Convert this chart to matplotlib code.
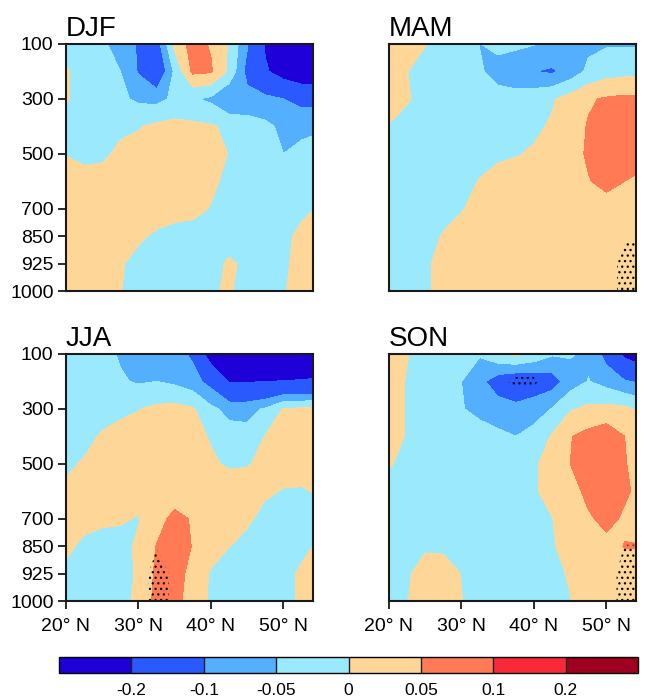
import matplotlib
matplotlib.use("Agg")
import matplotlib.pyplot as plt
import numpy as np

plt.rcParams['font.family'] = ['Liberation Sans', 'DejaVu Sans']
plt.rcParams['hatch.color'] = 'black'
plt.rcParams['hatch.linewidth'] = 0.9

# ---------------- data ----------------
lats = [20, 22.5, 25, 27.5, 30, 32.5, 35, 37.5, 40, 42.5, 45, 47.5, 50, 52.5, 55]
levels_hpa = [100, 200, 300, 400, 500, 600, 700, 850, 925, 1000]
ytick_hpa = [100, 300, 500, 700, 850, 925, 1000]
xtick_lats = [20, 30, 40, 50]
xtick_labels = ['20° N', '30° N', '40° N', '50° N']

contour_levels = [-1, -0.2, -0.1, -0.05, 0, 0.05, 0.1, 0.2, 1]
cbar_ticks = [-0.2, -0.1, -0.05, 0, 0.05, 0.1, 0.2]
cbar_ticklabels = ['-0.2', '-0.1', '-0.05', '0', '0.05', '0.1', '0.2']
fill_colors = ['#2000D8', '#2A5AFF', '#55AFFF', '#9AE9FD',
               '#FDD698', '#FF7A55', '#F82A3A', '#A00020']

djf = [
    [-0.02, -0.02, -0.04, -0.075, -0.105, -0.13, 0.015, 0.07, 0.045, -0.005, -0.095, -0.21, -0.26, -0.28, -0.28],
    [0.005, -0.02, -0.03, -0.05, -0.105, -0.16, -0.04, 0.06, 0.055, -0.01, -0.12, -0.19, -0.24, -0.27, -0.28],
    [0.005, -0.02, -0.03, -0.04, -0.06, -0.065, -0.04, -0.045, -0.06, -0.103, -0.08, -0.085, -0.1, -0.12, -0.12],
    [-0.02, -0.02, -0.015, -0.01, -0.003, 0.01, 0.015, 0.01, 0.005, -0.01, -0.03, -0.04, -0.06, -0.06, -0.055],
    [-0.002, -0.015, -0.01, 0.01, 0.015, 0.02, 0.02, 0.015, 0.01, -0.001, -0.02, -0.04, -0.05, -0.04, -0.035],
    [0.02, 0.02, 0.02, 0.02, 0.02, 0.02, 0.02, 0.015, 0.008, -0.01, -0.02, -0.02, -0.02, -0.02, -0.015],
    [0.02, 0.02, 0.02, 0.02, 0.02, 0.015, 0.01, 0.01, -0.002, -0.02, -0.02, -0.02, -0.015, -0.005, 0.002],
    [0.02, 0.02, 0.02, 0.015, 0.005, -0.005, -0.01, -0.015, -0.015, -0.01, -0.01, -0.01, -0.005, 0.005, 0.01],
    [0.02, 0.02, 0.015, 0.003, -0.01, -0.02, -0.02, -0.015, -0.008, 0.003, -0.004, -0.01, -0.005, 0.01, 0.015],
    [0.02, 0.02, 0.01, 0.001, -0.01, -0.02, -0.02, -0.01, -0.003, 0.003, -0.01, -0.01, -0.002, 0.01, 0.015],
]

mam = [
    [0.02, 0.015, 0.002, -0.02, -0.03, -0.051, -0.04, -0.04, -0.048, -0.055, -0.06, -0.06, -0.055, -0.055, -0.055],
    [0.01, 0.001, -0.02, -0.03, -0.035, -0.045, -0.065, -0.085, -0.099, -0.108, -0.08, -0.04, -0.02, -0.015, -0.015],
    [0.02, 0.005, -0.02, -0.03, -0.035, -0.035, -0.035, -0.03, -0.02, -0.005, 0.02, 0.045, 0.055, 0.06, 0.06],
    [-0.002, -0.02, -0.03, -0.03, -0.03, -0.03, -0.025, -0.015, -0.008, 0.005, 0.03, 0.053, 0.065, 0.07, 0.07],
    [-0.04, -0.04, -0.04, -0.03, -0.025, -0.015, -0.008, -0.003, 0.005, 0.02, 0.035, 0.055, 0.07, 0.07, 0.065],
    [-0.04, -0.04, -0.035, -0.025, -0.015, 0.002, 0.015, 0.02, 0.025, 0.03, 0.04, 0.048, 0.06, 0.05, 0.04],
    [-0.04, -0.035, -0.03, -0.015, -0.002, 0.01, 0.02, 0.025, 0.03, 0.03, 0.035, 0.035, 0.035, 0.035, 0.035],
    [-0.03, -0.025, -0.015, 0.003, 0.01, 0.02, 0.025, 0.03, 0.03, 0.035, 0.035, 0.04, 0.04, 0.04, 0.04],
    [-0.03, -0.02, -0.005, 0.01, 0.015, 0.02, 0.025, 0.03, 0.03, 0.035, 0.035, 0.04, 0.04, 0.04, 0.04],
    [-0.03, -0.02, -0.005, 0.01, 0.015, 0.02, 0.025, 0.03, 0.03, 0.035, 0.035, 0.04, 0.04, 0.04, 0.04],
]

jja = [
    [-0.02, -0.025, -0.035, -0.055, -0.07, -0.075, -0.08, -0.11, -0.25, -0.3, -0.3, -0.3, -0.28, -0.27, -0.27],
    [-0.02, -0.02, -0.03, -0.045, -0.055, -0.05, -0.06, -0.08, -0.12, -0.205, -0.205, -0.2, -0.198, -0.195, -0.19],
    [-0.03, -0.025, -0.02, -0.01, -0.002, 0.01, 0.015, 0.005, -0.04, -0.065, -0.065, -0.045, 0.003, 0.008, 0.008],
    [-0.03, -0.015, 0.005, 0.015, 0.02, 0.02, 0.02, 0.01, -0.003, -0.03, -0.035, 0.002, 0.01, 0.015, 0.015],
    [-0.01, 0.005, 0.015, 0.02, 0.02, 0.02, 0.02, 0.015, 0.005, -0.005, -0.003, 0.01, 0.015, 0.015, 0.015],
    [0.01, 0.02, 0.02, 0.02, 0.02, 0.02, 0.02, 0.02, 0.02, 0.02, 0.02, 0.005, -0.002, -0.003, 0.003],
    [0.01, 0.015, 0.01, 0.005, -0.003, 0.03, 0.065, 0.045, 0.03, 0.015, 0.005, -0.01, -0.015, -0.01, -0.005],
    [0.01, -0.01, -0.02, -0.015, 0.008, 0.052, 0.07, 0.048, 0.02, 0.001, -0.01, -0.02, -0.02, -0.008, 0.005],
    [-0.01, -0.02, -0.02, -0.015, 0.005, 0.06, 0.075, 0.03, -0.005, -0.02, -0.02, -0.02, -0.01, 0.005, 0.01],
    [-0.02, -0.02, -0.02, -0.015, 0.01, 0.065, 0.07, 0.02, -0.005, -0.02, -0.02, -0.02, -0.01, 0.005, 0.01],
]

son = [
    [0.02, 0.002, -0.02, -0.03, -0.045, -0.045, -0.01, 0.01, -0.015, -0.045, -0.045, -0.06, -0.12, -0.22, -0.26],
    [0.02, -0.003, -0.02, -0.035, -0.05, -0.085, -0.13, -0.15, -0.14, -0.125, -0.075, -0.048, -0.07, -0.095, -0.11],
    [0.02, -0.003, -0.02, -0.035, -0.048, -0.06, -0.075, -0.085, -0.07, -0.048, -0.005, 0.01, 0.015, 0.01, -0.01],
    [0.015, -0.003, -0.02, -0.025, -0.03, -0.035, -0.04, -0.05, -0.035, 0.005, 0.048, 0.065, 0.08, 0.05, 0.03],
    [0.003, -0.01, -0.02, -0.025, -0.025, -0.025, -0.025, -0.025, -0.005, 0.015, 0.05, 0.07, 0.075, 0.052, 0.035],
    [-0.015, -0.02, -0.02, -0.02, -0.02, -0.02, -0.02, -0.02, -0.005, 0.015, 0.035, 0.06, 0.07, 0.055, 0.04],
    [-0.02, -0.02, -0.02, -0.02, -0.02, -0.02, -0.02, -0.02, -0.015, -0.001, 0.025, 0.045, 0.06, 0.045, 0.035],
    [-0.02, -0.02, -0.005, -0.005, -0.015, -0.015, -0.015, -0.015, -0.01, -0.004, 0.015, 0.03, 0.04, 0.051, 0.051],
    [-0.02, -0.005, 0.015, 0.012, -0.001, -0.015, -0.015, -0.015, -0.012, -0.008, 0.003, 0.02, 0.03, 0.04, 0.04],
    [-0.02, -0.001, 0.015, 0.012, 0.001, -0.015, -0.015, -0.015, -0.012, -0.008, -0.001, 0.015, 0.025, 0.035, 0.035],
]

# significance score (ratio to critical value; >1 is significant, stippled)
z = [0] * 15
djf_sig = [z] * 10
mam_sig = [z] * 7 + [
    [0, 0, 0, 0, 0, 0, 0, 0, 0, 0, 0, 0, 0, 0.8, 0.8],
    [0, 0, 0, 0, 0, 0, 0, 0, 0, 0, 0, 0, 0, 1.8, 1.8],
    [0, 0, 0, 0, 0, 0, 0, 0, 0, 0, 0, 0, 0, 1.8, 1.8],
]
jja_sig = [z] * 7 + [
    [0, 0, 0, 0, 0, 0.9, 0.3, 0, 0, 0, 0, 0, 0, 0, 0],
    [0, 0, 0, 0, 0, 1.8, 0.6, 0, 0, 0, 0, 0, 0, 0, 0],
    [0, 0, 0, 0, 0, 1.8, 0.6, 0, 0, 0, 0, 0, 0, 0, 0],
]
son_sig = [z, [0, 0, 0, 0, 0, 0, 0.8, 1.2, 1.2, 0.3, 0, 0, 0, 0, 0]] + [z] * 5 + [
    [0, 0, 0, 0, 0, 0, 0, 0, 0, 0, 0, 0, 0, 1.05, 1.05],
    [0, 0, 0, 0, 0, 0, 0, 0, 0, 0, 0, 0, 0, 1.8, 1.8],
    [0, 0, 0, 0, 0, 0, 0, 0, 0, 0, 0, 0, 0, 1.8, 1.8],
]

panels = [('DJF', djf, djf_sig), ('MAM', mam, mam_sig),
          ('JJA', jja, jja_sig), ('SON', son, son_sig)]

# ---------------- figure ----------------
W, H = 646, 700
fig = plt.figure(figsize=(W / 100, H / 100), dpi=100)

def rect(x0, y0, x1, y1):
    return [x0 / W, 1 - y1 / H, (x1 - x0) / W, (y1 - y0) / H]

positions = [rect(66, 44, 313, 291), rect(389, 44, 636, 291),
             rect(66, 354, 313, 601), rect(389, 354, 636, 601)]

yidx = np.arange(len(levels_hpa))
ytick_pos = [levels_hpa.index(p) for p in ytick_hpa]

cs = None
for i, ((name, data, sig), pos) in enumerate(zip(panels, positions)):
    ax = fig.add_axes(pos)
    cs = ax.contourf(lats, yidx, np.array(data), levels=contour_levels,
                     colors=fill_colors)
    sig_arr = np.array(sig, dtype=float)
    if sig_arr.max() > 1:
        ax.contourf(lats, yidx, sig_arr, levels=[1, 100], colors='none',
                    hatches=['...'])
    ax.set_xlim(20, 54.07)
    ax.set_ylim(len(levels_hpa) - 1, 0)
    for s in ax.spines.values():
        s.set_linewidth(1.5)
        s.set_color('#1a1a1a')
    left = (i % 2 == 0)
    bottom = (i >= 2)
    if left:
        ax.set_yticks(ytick_pos)
        ax.set_yticklabels([str(p) for p in ytick_hpa])
    else:
        ax.set_yticks([])
    if bottom:
        ax.set_xticks(xtick_lats)
        ax.set_xticklabels(xtick_labels)
    else:
        ax.set_xticks([])
    ax.tick_params(axis='both', direction='out', length=6, width=1.3,
                   labelsize=14, color='#1a1a1a')
    ax.tick_params(axis='y', pad=3)
    ax.tick_params(axis='x', pad=6)
    ax.set_title(name, loc='left', fontsize=20, pad=6)

cax = fig.add_axes(rect(59, 657, 638, 673))
cb = fig.colorbar(cs, cax=cax, orientation='horizontal', spacing='uniform',
                  ticks=cbar_ticks, drawedges=True)
cb.set_ticklabels(cbar_ticklabels)
cb.outline.set_linewidth(1.0)
cb.dividers.set_color('#222222')
cb.dividers.set_linewidth(1.0)
cax.tick_params(length=0, labelsize=12.5, pad=7)

fig.savefig('out.png', dpi=100)
